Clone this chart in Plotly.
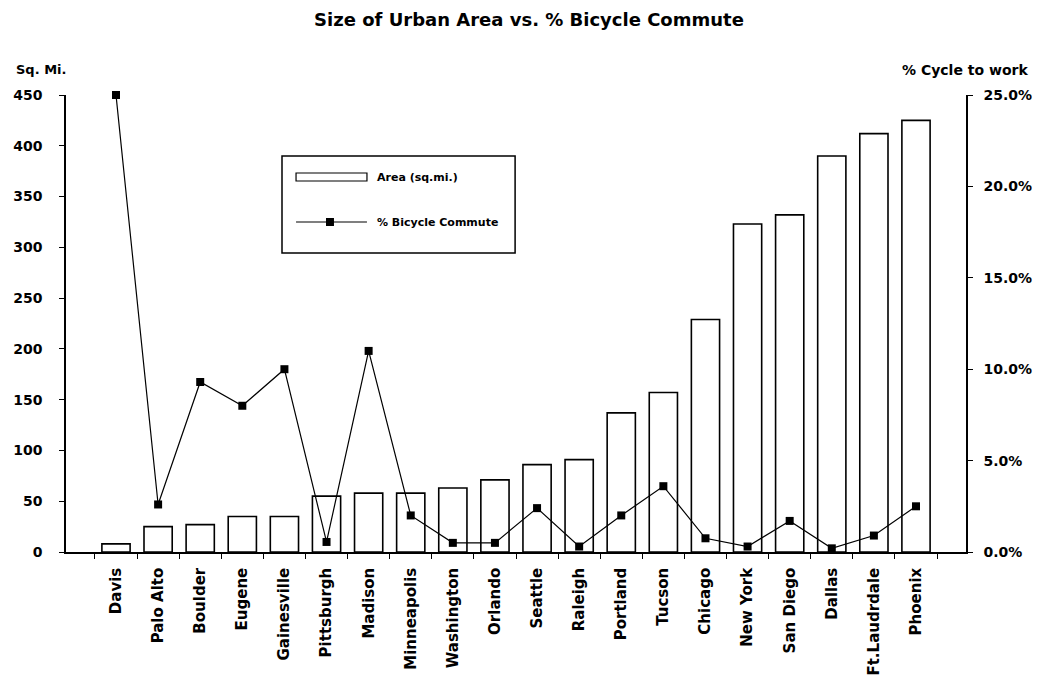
import plotly.graph_objects as go

cities = ["Davis", "Palo Alto", "Boulder", "Eugene", "Gainesville", "Pittsburgh",
          "Madison", "Minneapolis", "Washington", "Orlando", "Seattle", "Raleigh",
          "Portland", "Tucson", "Chicago", "New York", "San Diego", "Dallas",
          "Ft.Laudrdale", "Phoenix"]
area_sqmi = [8, 25, 27, 35, 35, 55, 58, 58, 63, 71, 86, 91, 137, 157, 229, 323, 332, 390, 412, 425]
pct_bike = [0.250, 0.026, 0.093, 0.080, 0.100, 0.0055, 0.110, 0.020, 0.005, 0.005,
            0.024, 0.003, 0.020, 0.036, 0.0075, 0.003, 0.017, 0.002, 0.009, 0.025]
left_ticks = list(range(0, 451, 50))
right_ticks = [0, 0.05, 0.10, 0.15, 0.20, 0.25]

FONT = "DejaVu Sans"

fig = go.Figure()

# area bars: white with black outline
fig.add_trace(go.Bar(
    x=cities, y=area_sqmi, name="Area (sq.mi.)", showlegend=False,
    marker=dict(color="white", line=dict(color="black", width=1.6)),
))

# bicycle commute share on the right axis
fig.add_trace(go.Scatter(
    x=cities, y=pct_bike, name="% Bicycle Commute", yaxis="y2", showlegend=False,
    mode="lines+markers", cliponaxis=False,
    line=dict(color="black", width=1.2),
    marker=dict(symbol="square", size=8, color="black"),
))

tickfont = dict(family=FONT, size=14, color="black", weight="bold")

# hand-made legend box like the original (wide swatches)
legend_shapes = [
    dict(type="rect", xref="paper", yref="paper", x0=0.240, x1=0.499, y0=0.654, y1=0.8665,
         line=dict(color="black", width=1.5), fillcolor="white", layer="above"),
    dict(type="rect", xref="paper", yref="paper", x0=0.2556, x1=0.3344, y0=0.8118, y1=0.8293,
         line=dict(color="black", width=1.2), fillcolor="white", layer="above"),
    dict(type="line", xref="paper", yref="paper", x0=0.2556, x1=0.3344, y0=0.7221, y1=0.7221,
         line=dict(color="black", width=1.2), layer="above"),
    dict(type="rect", xref="paper", yref="paper", xsizemode="pixel", ysizemode="pixel",
         xanchor=0.2933, yanchor=0.7221, x0=-4, x1=4, y0=-4, y1=4,
         line=dict(color="black", width=0), fillcolor="black", layer="above"),
]

fig.update_layout(
    width=1042, height=680,
    margin=dict(l=58, r=84, t=87, b=136),
    paper_bgcolor="white", plot_bgcolor="white",
    bargap=0.33,
    showlegend=False,
    title=dict(text="<b>Size of Urban Area vs. % Bicycle Commute</b>",
               x=0.5, xanchor="center", y=0.983, yanchor="middle",
               font=dict(family=FONT, size=18, color="black")),
    xaxis=dict(
        type="category", tickangle=-90, tickson="boundaries",
        ticks="outside", ticklen=5, tickcolor="black", ticklabelstandoff=8,
        showline=True, linecolor="black", linewidth=1.5,
        showgrid=False, automargin=False,
        tickfont=dict(family=FONT, size=15, color="black", weight="bold"),
    ),
    # inner half of the crossing x ticks
    xaxis2=dict(
        overlaying="x", anchor="y", range=[-0.5, 19.5],
        tickvals=[i + 0.5 for i in range(len(cities) - 1)],
        ticks="inside", ticklen=5, tickcolor="black",
        showticklabels=False, showline=False, showgrid=False, zeroline=False,
    ),
    yaxis=dict(
        range=[0, 450], tickvals=left_ticks,
        ticks="outside", ticklen=5, tickcolor="black", ticklabelstandoff=14,
        showline=True, linecolor="black", linewidth=1.5,
        showgrid=False, zeroline=False, automargin=False,
        tickfont=tickfont,
    ),
    yaxis2=dict(
        overlaying="y", side="right", range=[0, 0.25], tickvals=right_ticks,
        tickformat=".1%", ticks="outside", ticklen=5, tickcolor="black", ticklabelstandoff=8,
        showline=True, linecolor="black", linewidth=1.5,
        showgrid=False, zeroline=False, automargin=False,
        tickfont=tickfont,
    ),
    # inner halves of the crossing y ticks
    yaxis3=dict(
        overlaying="y", side="left", anchor="x", range=[0, 450], tickvals=left_ticks,
        ticks="inside", ticklen=5, tickcolor="black",
        showticklabels=False, showline=False, showgrid=False, zeroline=False,
    ),
    yaxis4=dict(
        overlaying="y", side="right", anchor="x", range=[0, 0.25], tickvals=right_ticks,
        ticks="inside", ticklen=5, tickcolor="black",
        showticklabels=False, showline=False, showgrid=False, zeroline=False,
    ),
    shapes=legend_shapes,
    annotations=[
        dict(text="<b>Sq. Mi.</b>", xref="paper", yref="paper", x=-0.058, y=1.055,
             xanchor="left", yanchor="middle", showarrow=False,
             font=dict(family=FONT, size=13, color="black")),
        dict(text="<b>% Cycle to work</b>", xref="paper", yref="paper", x=1.071, y=1.055,
             xanchor="right", yanchor="middle", showarrow=False,
             font=dict(family=FONT, size=14, color="black")),
        dict(text="<b>Area (sq.mi.)</b>", xref="paper", yref="paper", x=0.3433, y=0.8205,
             xanchor="left", yanchor="middle", showarrow=False,
             font=dict(family=FONT, size=11, color="black")),
        dict(text="<b>% Bicycle Commute</b>", xref="paper", yref="paper", x=0.3433, y=0.7221,
             xanchor="left", yanchor="middle", showarrow=False,
             font=dict(family=FONT, size=11, color="black")),
    ],
)

fig.write_html("out.html")
